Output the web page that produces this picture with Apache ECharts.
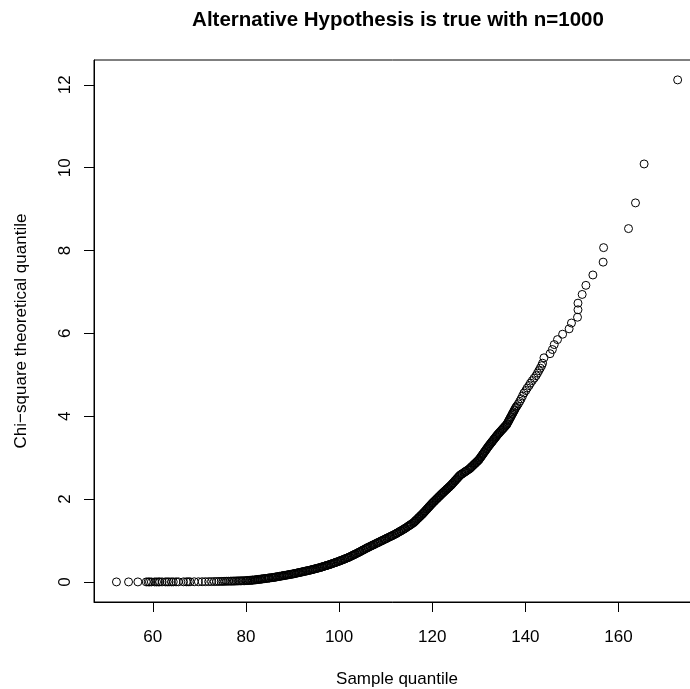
<!DOCTYPE html>
<html>
<head>
<meta charset="utf-8">
<title>Alternative Hypothesis is true with n=1000</title>
<script src="https://cdn.jsdelivr.net/npm/echarts@6/dist/echarts.min.js"></script>
<style>
  html, body { margin: 0; padding: 0; background: #fff; }
  #main { width: 690px; height: 689px; }
</style>
</head>
<body>
<div id="main"></div>
<script>
// sorted sample values (x) and chi-square(1) theoretical quantiles (y)
var sampleQuantile = [
  52.2, 54.8, 56.8, 58.6, 59.0, 59.3, 59.7, 60.4, 60.8, 61.2,
  61.5, 62.0, 62.7, 63.1, 63.5, 64.0, 64.4, 65.0, 65.5, 66.6,
  67.2, 67.6, 68.0, 68.9, 69.8, 70.6, 71.3, 72.0, 72.6, 73.2,
  73.7, 74.2, 74.7, 75.1, 75.5, 75.9, 76.3, 76.7, 77.0, 77.3,
  77.6, 77.9, 78.2, 78.5, 78.8, 79.1, 79.4, 79.7, 80.0,
  80.2, 80.4, 80.5, 80.8, 81.0, 81.2, 81.4, 81.5, 81.8, 82.0,
  82.2, 82.4, 82.6, 82.7, 83.0, 83.2, 83.4, 83.5, 83.8, 84.0,
  84.2, 84.3, 84.6, 84.8, 85.0, 85.1, 85.4, 85.6, 85.8, 86.0,
  86.2, 86.4, 86.5, 86.8, 87.0, 87.2, 87.3, 87.6, 87.8, 88.0,
  88.2, 88.3, 88.6, 88.8, 89.0, 89.2, 89.3, 89.6, 89.8, 90.0,
  90.2, 90.4, 90.5, 90.8, 91.0, 91.2, 91.4, 91.5, 91.8, 92.0,
  92.2, 92.3, 92.6, 92.8, 93.0, 93.2, 93.3, 93.6, 93.8, 94.0,
  94.2, 94.4, 94.5, 94.8, 95.0, 95.2, 95.3, 95.6, 95.8, 96.0,
  96.2, 96.4, 96.5, 96.8, 97.0, 97.2, 97.4, 97.5, 97.8, 98.0,
  98.2, 98.3, 98.6, 98.8, 99.0, 99.2, 99.3, 99.6, 99.8, 100.0,
  100.2, 100.4, 100.5, 100.8, 101.0, 101.2, 101.3, 101.6, 101.8, 102.0,
  102.2, 102.3, 102.6, 102.8, 103.0, 103.2, 103.4, 103.5, 103.8, 104.0,
  104.2, 104.4, 104.5, 104.8, 105.0, 105.2, 105.3, 105.6, 105.8, 106.0,
  106.2, 106.3, 106.6, 106.8, 107.0, 107.2, 107.4, 107.5, 107.8, 108.0,
  108.2, 108.4, 108.5, 108.8, 109.0, 109.2, 109.3, 109.6, 109.8, 110.0,
  110.2, 110.3, 110.6, 110.8, 111.0, 111.2, 111.4, 111.5, 111.8, 112.0,
  112.2, 112.4, 112.5, 112.8, 113.0, 113.2, 113.3, 113.6, 113.8, 114.0,
  114.2, 114.3, 114.6, 114.8, 115.0, 115.2, 115.4, 115.5, 115.8, 116.0,
  116.15, 116.3, 116.45, 116.6, 116.8, 116.95, 117.1, 117.25, 117.4, 117.55, 117.7, 117.85, 118.0,
  118.15, 118.3, 118.45, 118.6, 118.8, 118.95, 119.1, 119.25, 119.4, 119.55, 119.7, 119.85, 120.0,
  120.15, 120.3, 120.45, 120.6, 120.8, 120.95, 121.1, 121.25, 121.4, 121.55, 121.7, 121.85, 122.0,
  122.15, 122.3, 122.45, 122.6, 122.8, 122.95, 123.1, 123.25, 123.4, 123.55, 123.7, 123.85, 124.0,
  124.15, 124.3, 124.45, 124.6, 124.8, 124.95, 125.1, 125.25, 125.4, 125.55, 125.7, 125.85, 126.0,
  126.2, 126.4, 126.5, 126.8, 127.0, 127.2, 127.3, 127.6, 127.8, 128.0,
  128.15, 128.3, 128.45, 128.6, 128.8, 128.95, 129.1, 129.25, 129.4, 129.55, 129.7, 129.85, 130.0,
  130.1, 130.25, 130.4, 130.5, 130.65, 130.8, 130.9, 131.05, 131.2, 131.3, 131.45, 131.6, 131.7, 131.85, 132.0,
  132.1, 132.25, 132.4, 132.5, 132.65, 132.8, 132.9, 133.05, 133.2, 133.3, 133.45, 133.6, 133.7, 133.85, 134.0,
  134.15, 134.3, 134.45, 134.6, 134.8, 134.95, 135.1, 135.25, 135.4, 135.55, 135.7, 135.85, 136.0,
  136.1, 136.25, 136.4, 136.5, 136.65, 136.8, 136.9, 137.05, 137.2, 137.3, 137.45, 137.6, 137.7, 137.85, 138.0,
  138.2, 138.5, 138.8, 139.1, 139.4, 139.7, 140.1, 140.4, 140.8, 141.1,
  141.5, 141.9, 142.3, 142.6, 142.9, 143.2, 143.5, 143.7, 144.0, 145.3,
  145.8, 146.2, 146.9, 148.0, 149.4, 149.9, 151.2, 151.3, 151.3, 152.2,
  153.0, 154.5, 156.7, 156.8, 162.15, 163.65, 165.5, 172.7
];
var chisqQuantile = [
  0.000, 0.000, 0.000, 0.000, 0.000, 0.000, 0.000, 0.000, 0.000, 0.000,
  0.001, 0.001, 0.001, 0.001, 0.001, 0.001, 0.001, 0.002, 0.002, 0.002,
  0.002, 0.003, 0.003, 0.004, 0.004, 0.005, 0.006, 0.007, 0.008, 0.009,
  0.010, 0.011, 0.012, 0.013, 0.015, 0.016, 0.017, 0.018, 0.019, 0.020,
  0.021, 0.022, 0.024, 0.025, 0.026, 0.027, 0.028, 0.029, 0.030,
  0.032, 0.034, 0.035, 0.037, 0.039, 0.041, 0.043, 0.044, 0.047, 0.049,
  0.052, 0.055, 0.058, 0.060, 0.064, 0.067, 0.070, 0.072, 0.076, 0.079,
  0.082, 0.084, 0.088, 0.091, 0.094, 0.096, 0.100, 0.103, 0.107, 0.110,
  0.114, 0.118, 0.120, 0.126, 0.130, 0.134, 0.136, 0.142, 0.146, 0.150,
  0.154, 0.156, 0.162, 0.166, 0.170, 0.174, 0.176, 0.182, 0.186, 0.190,
  0.195, 0.200, 0.202, 0.210, 0.215, 0.220, 0.225, 0.227, 0.235, 0.240,
  0.245, 0.247, 0.255, 0.260, 0.265, 0.270, 0.272, 0.280, 0.285, 0.290,
  0.296, 0.302, 0.305, 0.314, 0.320, 0.326, 0.329, 0.338, 0.344, 0.350,
  0.357, 0.364, 0.367, 0.378, 0.385, 0.392, 0.399, 0.402, 0.413, 0.420,
  0.428, 0.432, 0.444, 0.452, 0.460, 0.468, 0.472, 0.484, 0.492, 0.500,
  0.509, 0.518, 0.522, 0.536, 0.545, 0.554, 0.558, 0.572, 0.581, 0.590,
  0.601, 0.606, 0.623, 0.634, 0.645, 0.656, 0.667, 0.672, 0.689, 0.700,
  0.712, 0.724, 0.730, 0.748, 0.760, 0.772, 0.778, 0.796, 0.808, 0.820,
  0.831, 0.836, 0.853, 0.864, 0.875, 0.886, 0.897, 0.902, 0.919, 0.930,
  0.941, 0.952, 0.957, 0.974, 0.985, 0.996, 1.001, 1.018, 1.029, 1.040,
  1.051, 1.056, 1.073, 1.084, 1.095, 1.106, 1.117, 1.122, 1.139, 1.150,
  1.163, 1.176, 1.182, 1.202, 1.215, 1.228, 1.234, 1.254, 1.267, 1.280,
  1.295, 1.302, 1.325, 1.340, 1.355, 1.370, 1.385, 1.392, 1.415, 1.430,
  1.446, 1.463, 1.479, 1.496, 1.518, 1.534, 1.551, 1.567, 1.584, 1.600, 1.617, 1.633, 1.650,
  1.668, 1.687, 1.705, 1.724, 1.749, 1.767, 1.786, 1.804, 1.823, 1.841, 1.860, 1.878, 1.897,
  1.914, 1.930, 1.947, 1.964, 1.986, 2.003, 2.020, 2.036, 2.053, 2.070, 2.086, 2.103, 2.120,
  2.136, 2.152, 2.167, 2.183, 2.204, 2.220, 2.236, 2.251, 2.267, 2.283, 2.299, 2.314, 2.330,
  2.349, 2.367, 2.386, 2.404, 2.429, 2.448, 2.466, 2.485, 2.504, 2.522, 2.541, 2.559, 2.578,
  2.593, 2.608, 2.616, 2.638, 2.654, 2.669, 2.676, 2.699, 2.714, 2.729,
  2.745, 2.761, 2.778, 2.794, 2.815, 2.832, 2.848, 2.864, 2.880, 2.896, 2.913, 2.929, 2.945,
  2.961, 2.985, 3.008, 3.024, 3.048, 3.071, 3.087, 3.111, 3.135, 3.151, 3.174, 3.198, 3.214, 3.238, 3.262,
  3.276, 3.298, 3.320, 3.334, 3.356, 3.377, 3.392, 3.413, 3.435, 3.449, 3.471, 3.492, 3.507, 3.528, 3.550,
  3.569, 3.588, 3.606, 3.625, 3.650, 3.669, 3.688, 3.706, 3.725, 3.744, 3.763, 3.781, 3.800,
  3.821, 3.853, 3.884, 3.905, 3.937, 3.968, 3.989, 4.021, 4.052, 4.073, 4.105, 4.136, 4.157, 4.189, 4.220,
  4.25, 4.30, 4.36, 4.42, 4.49, 4.56, 4.62, 4.68, 4.74, 4.80,
  4.86, 4.92, 4.98, 5.04, 5.10, 5.16, 5.22, 5.28, 5.41, 5.51,
  5.61, 5.73, 5.85, 5.98, 6.11, 6.25, 6.39, 6.57, 6.73, 6.94,
  7.16, 7.41, 7.72, 8.07, 8.53, 9.15, 10.09, 12.12
];
// axis ranges (R style: data range padded by 4%) and tick labels
var xRange = [47.38, 177.5];
var yRange = [-0.485, 12.6];
var xTicks = [60, 80, 100, 120, 140, 160];
var yTicks = [0, 2, 4, 6, 8, 10, 12];

var points = [];
for (var i = 0; i < sampleQuantile.length; i++) {
    points.push([sampleQuantile[i], chisqQuantile[i]]);
}

// plot box in pixels
var box = { left: 94, top: 60, right: 700, bottom: 602 };
var W = 690, H = 689, TICK = 10;
// where a value lands inside the box (lines up the tick strips with the data box)
function px(v) { return box.left + (v - xRange[0]) / (xRange[1] - xRange[0]) * (box.right - box.left); }
function py(v) { return box.bottom - (v - yRange[0]) / (yRange[1] - yRange[0]) * (box.bottom - box.top); }

var font = 'Liberation Sans, Arial, Helvetica, sans-serif';
var txt = { fontFamily: font, fontSize: 17, color: '#000' };
var xFirst = xTicks[0], xLast = xTicks[xTicks.length - 1];
var yFirst = yTicks[0], yLast = yTicks[yTicks.length - 1];

var myChart = echarts.init(document.getElementById('main'));
var option = {
    animation: false,
    title: {
        text: 'Alternative Hypothesis is true with n=1000',
        left: 393,
        textAlign: 'center',
        top: 5,
        textStyle: { fontFamily: font, fontSize: 20.5, fontWeight: 'bold', color: '#000' }
    },
    grid: [
        // data box
        { left: box.left, top: box.top, right: W - box.right, bottom: H - box.bottom,
          outerBoundsMode: 'none', show: true, borderColor: '#000', borderWidth: 1 },
        // strip under the box holding the x ticks (60..160)
        { left: px(xFirst), right: W - px(xLast), top: box.bottom, bottom: H - box.bottom - TICK,
          outerBoundsMode: 'none', show: false },
        // strip left of the box holding the y ticks (0..12)
        { left: box.left - TICK, right: W - box.left, top: py(yLast), bottom: H - py(yFirst),
          outerBoundsMode: 'none', show: false }
    ],
    xAxis: [
        { gridIndex: 0, type: 'value', min: xRange[0], max: xRange[1],
          name: 'Sample quantile', nameLocation: 'middle', nameGap: 69, nameTextStyle: txt,
          axisLine: { show: true, onZero: false, lineStyle: { color: '#000', width: 1 } },
          axisTick: { show: false }, axisLabel: { show: false }, splitLine: { show: false } },
        { gridIndex: 1, type: 'value', min: xFirst, max: xLast, interval: 20,
          axisLine: { show: false, onZero: false }, axisTick: { show: false },
          axisLabel: { margin: 27 - TICK, fontFamily: font, fontSize: 17, color: '#000' },
          splitLine: { show: true, lineStyle: { color: '#000', width: 1, type: 'solid' } } },
        { gridIndex: 2, type: 'value', show: false, min: 0, max: 1 }
    ],
    yAxis: [
        { gridIndex: 0, type: 'value', min: yRange[0], max: yRange[1],
          name: 'Chi\u2212square theoretical quantile', nameLocation: 'middle', nameRotate: 90,
          nameGap: 64, nameTextStyle: txt,
          axisLine: { show: true, onZero: false, lineStyle: { color: '#000', width: 1 } },
          axisTick: { show: false }, axisLabel: { show: false }, splitLine: { show: false } },
        { gridIndex: 1, type: 'value', show: false, min: 0, max: 1 },
        { gridIndex: 2, type: 'value', min: yFirst, max: yLast, interval: 2,
          axisLine: { show: false, onZero: false }, axisTick: { show: false },
          axisLabel: { rotate: 90, margin: 20 - TICK, fontFamily: font, fontSize: 17, color: '#000' },
          splitLine: { show: true, lineStyle: { color: '#000', width: 1, type: 'solid' } } }
    ],
    series: [{
        type: 'scatter',
        xAxisIndex: 0,
        yAxisIndex: 0,
        data: points,
        symbol: 'circle',
        symbolSize: 8,
        progressive: 0,
        large: false,
        itemStyle: { color: 'rgba(0,0,0,0)', borderColor: '#000', borderWidth: 1, opacity: 1 },
        emphasis: { disabled: true }
    }]
};
myChart.setOption(option);
</script>
</body>
</html>
